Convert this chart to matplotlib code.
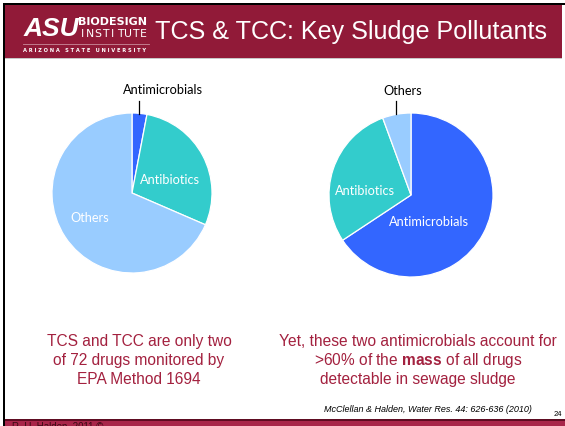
import matplotlib
matplotlib.use('Agg')
import matplotlib.pyplot as plt
from matplotlib.patches import Rectangle

plt.rcParams['mathtext.fontset'] = 'custom'
plt.rcParams['mathtext.bf'] = 'Liberation Sans:bold'
plt.rcParams['mathtext.rm'] = 'Liberation Sans'

W, H = 565, 426

# pie data (percent of slices, clockwise from 12 o'clock)
left_labels = ['Antimicrobials', 'Antibiotics', 'Others']
left_values = [3.0, 28.5, 68.5]
right_labels = ['Antimicrobials', 'Antibiotics', 'Others']
right_values = [65.7, 28.7, 5.6]

colors = {'Antimicrobials': '#3366ff', 'Antibiotics': '#33cccc', 'Others': '#99ccff'}

title = 'TCS & TCC: Key Sludge Pollutants'
left_text = ['TCS and TCC are only two', 'of 72 drugs monitored by', 'EPA Method 1694']
right_text = ['Yet, these two antimicrobials account for',
              r'>60% of the $\mathbf{mass}$ of all drugs',
              'detectable in sewage sludge']
citation = 'McClellan & Halden, Water Res. 44: 626-636 (2010)'
page_no = '24'

maroon = '#911a38'
crimson = '#a3213f'

fig = plt.figure(figsize=(W / 100, H / 100), dpi=100)
bg = fig.add_axes([0, 0, 1, 1])
bg.set_xlim(0, W)
bg.set_ylim(H, 0)
bg.axis('off')

# frame + header
bg.add_patch(Rectangle((3, 3), W - 3, 2, color='black', lw=0))
bg.add_patch(Rectangle((3, 3), 2, H - 3, color='black', lw=0))
bg.add_patch(Rectangle((5, 5), 557, 52.5, color=maroon, lw=0))
bg.add_patch(Rectangle((5, 57.5), 557, 1.2, color='#c8c8c8', lw=0))
# footer
bg.add_patch(Rectangle((5, 419), W - 5, 1.5, color='#5e0c22', lw=0))
bg.add_patch(Rectangle((5, 420.5), W - 5, 5.5, color='#a8264a', lw=0))
bg.text(12, 421.5, 'R. U. Halden, 2011 \u00a9', fontsize=7, color='#3a0a14',
        family='Liberation Sans', va='top', ha='left')

# logo
bg.text(24, 35.5, 'ASU', fontsize=19, fontweight='bold', style='italic', color='white',
        family='Liberation Sans', va='baseline', ha='left')
bg.text(78, 25.3, 'BIODESIGN', fontsize=8.0, fontweight='bold', color='white',
        family='DejaVu Sans', va='baseline', ha='left')
for i, ch in enumerate('INSTITUTE'):
    bg.text(79 + (i + 0.5) * 68 / 9, 37.3, ch, fontsize=7.8, color='white',
            family='DejaVu Sans', va='baseline', ha='center')
bg.plot([23, 149], [43.5, 43.5], color='#c98a9a', lw=0.6)
bg.text(23, 52, 'A R I Z O N A   S T A T E   U N I V E R S I T Y', fontsize=3.7,
        fontweight='bold', color='white', family='DejaVu Sans', va='baseline', ha='left')

bg.text(155, 39.5, title, fontsize=18.1, color='white', family='Liberation Sans',
        va='baseline', ha='left')

# bottom texts
for i, line in enumerate(left_text):
    bg.text(139, 346 + i * 19, line, fontsize=11.2, color=crimson,
            family='Liberation Sans', va='baseline', ha='center')
for i, line in enumerate(right_text):
    bg.text(418, 346 + i * 19, line, fontsize=11.2, color=crimson,
            family='Liberation Sans', va='baseline', ha='center')

bg.text(532, 412, citation, fontsize=6.5, style='italic', color='black',
        family='Liberation Sans', va='baseline', ha='right')
bg.text(554, 416, page_no, fontsize=5.5, color='black',
        family='Liberation Sans', va='baseline', ha='left')


def pie_axes(cx, cy, r, lim=1.45):
    s = r * lim
    ax = fig.add_axes([(cx - s) / W, 1 - (cy + s) / H, 2 * s / W, 2 * s / H])
    return ax


def draw_pie(ax, labels, values, inside, outside, lim=1.45):
    ax.pie(values, colors=[colors[l] for l in labels], startangle=90, counterclock=False,
           wedgeprops=dict(edgecolor='white', linewidth=0.9), radius=1)
    ax.set_xlim(-lim, lim)
    ax.set_ylim(-lim, lim)
    ax.set_aspect('equal')
    ax.axis('off')
    for lab, (x, y) in inside.items():
        ax.text(x, y, lab, color='white', fontsize=9.2, family='Lato',
                ha='center', va='center')
    for lab, (x, y, lx) in outside.items():
        ax.text(x, y, lab, color='black', fontsize=9.2, family='Lato',
                ha='center', va='center')
        ax.plot([lx, lx], [1.0 - 0.01, 1.15], color='black', lw=0.9)


ax1 = pie_axes(132, 193, 80)
draw_pie(ax1, left_labels, left_values,
         inside={'Antibiotics': (0.48, 0.16), 'Others': (-0.53, -0.31)},
         outside={'Antimicrobials': (0.39, 1.29, 0.09)})

ax2 = pie_axes(411, 195, 82)
draw_pie(ax2, right_labels, right_values,
         inside={'Antimicrobials': (0.22, -0.33), 'Antibiotics': (-0.56, 0.05)},
         outside={'Others': (-0.1, 1.27, -0.18)})

fig.savefig('out.png', dpi=100)
